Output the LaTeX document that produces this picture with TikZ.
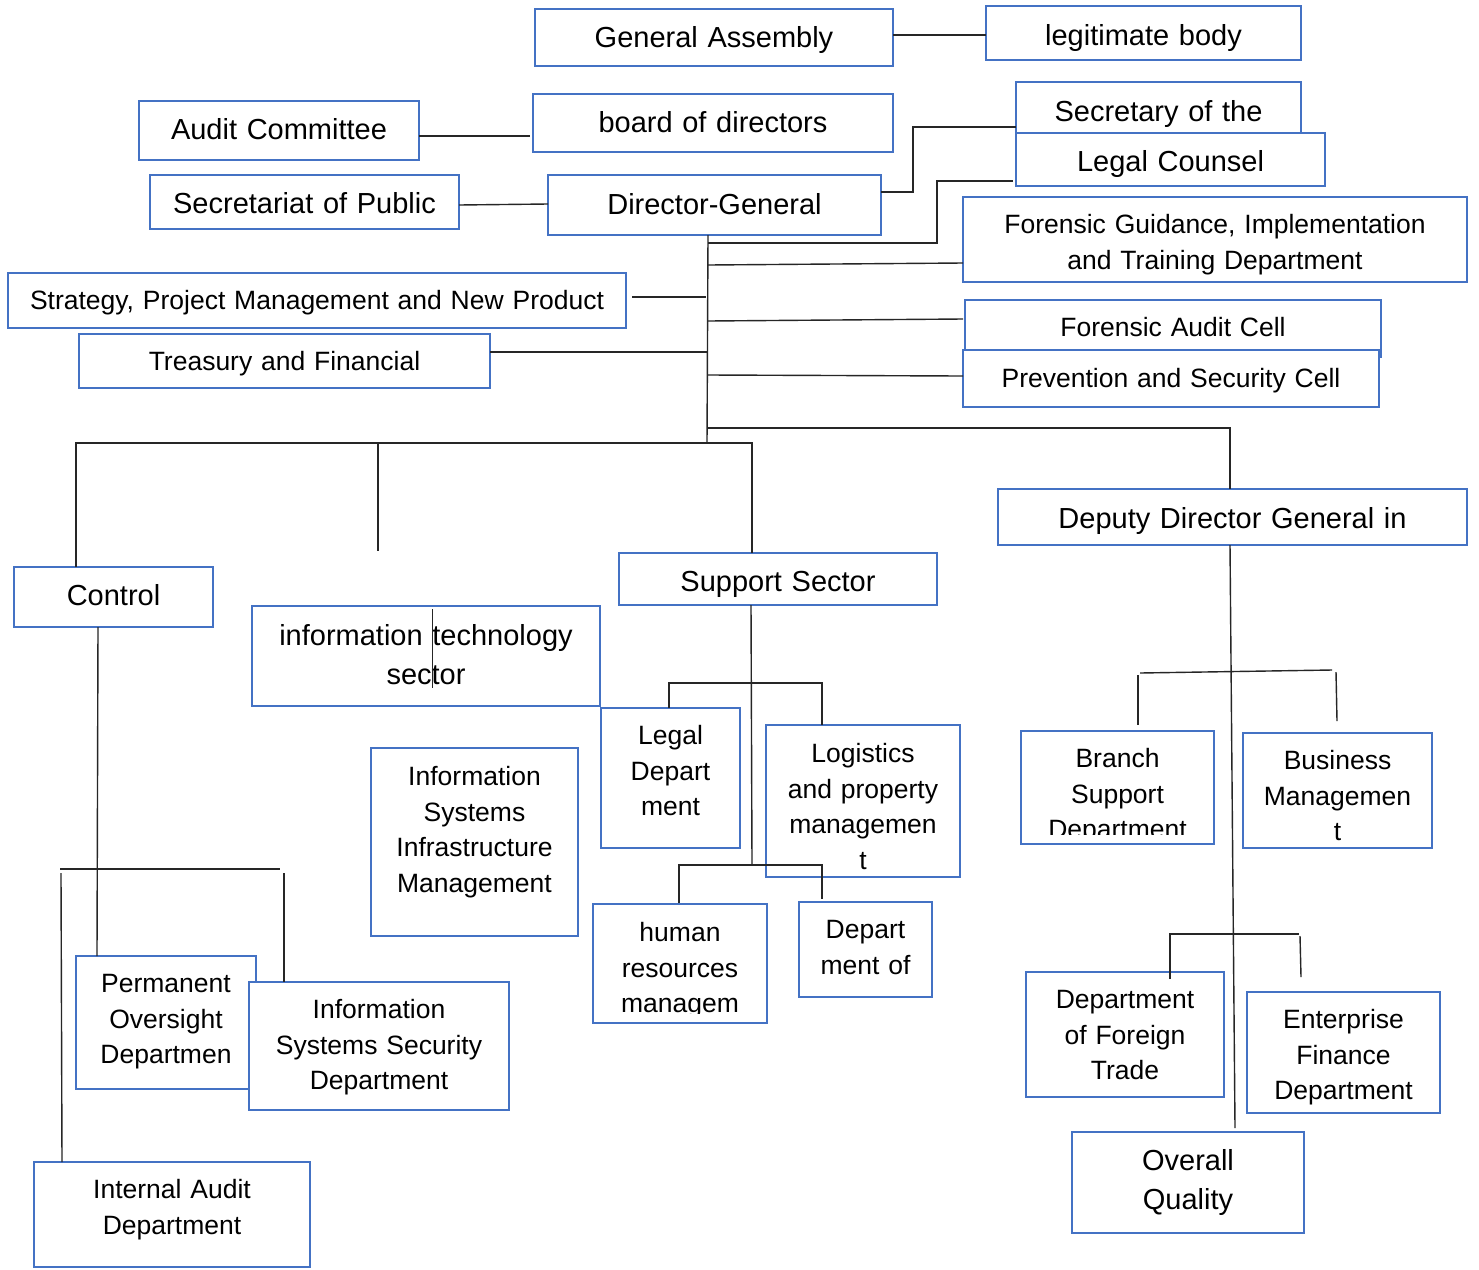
\documentclass[tikz,border=0pt]{standalone}
\usepackage{fontspec}
\setmainfont{Liberation Sans}
\usetikzlibrary{calc}
\definecolor{boxblue}{HTML}{4472C4}
\tikzset{
  box/.style={draw=boxblue, line width=2.9pt, fill=white, inner sep=0pt, outer sep=0pt},
  big/.style={font=\fontsize{29}{39}\selectfont, align=center, inner sep=0pt, text=black},
  sml/.style={font=\fontsize{26.5}{35.5}\selectfont, align=center, inner sep=0pt, text=black},
  conn/.style={draw=black!85, line width=1.4pt},
}
\newcommand\mkbox[8]{%
  \pgfmathsetmacro\bxw{#4-#2}\pgfmathsetmacro\bxh{#5-#3}%
  \pgfmathsetmacro\bxx{(#2+#4)/2}\pgfmathsetmacro\bxy{(#3+#5)/2}%
  \pgfmathsetmacro\bxt{#4-#2-4}%
  \node[box, minimum width=\bxw pt, minimum height=\bxh pt] (#1) at (\bxx,\bxy) {};
  \node[#7, text width=\bxt pt, anchor=base] (#1-t) at (\bxx,#6) {#8};}
\newcommand\mkboxc[9]{%
  \pgfmathsetmacro\bxw{#4-#2}\pgfmathsetmacro\bxh{#5-#3}%
  \pgfmathsetmacro\bxx{(#2+#4)/2}\pgfmathsetmacro\bxy{(#3+#5)/2}%
  \pgfmathsetmacro\bxt{#4-#2-4}%
  \node[box, minimum width=\bxw pt, minimum height=\bxh pt] (#1) at (\bxx,\bxy) {};
  \begin{scope}
    \clip (#2,#3) rectangle (#4,#9);
    \node[#7, text width=\bxt pt, anchor=base] (#1-t) at (\bxx,#6) {#8};
  \end{scope}}
\begin{document}
\begin{tikzpicture}[x=1pt,y=-1pt]
\fill[white] (0,0) rectangle (1479,1269);
\useasboundingbox (0,0) rectangle (1479,1269);

\mkbox{ga}{535}{9}{893}{66}{47.5}{big}{General Assembly}
\mkbox{legit}{986}{6}{1301}{60}{45.5}{big}{legitimate body}
\mkbox{audit}{139}{101}{419}{160}{139.5}{big}{Audit Committee}
\mkbox{board}{533}{94}{893}{152}{132.5}{big}{board of directors}
\mkbox{secr}{1016}{82}{1301}{137}{121.5}{big}{Secretary of the}
\mkbox{legal}{1016}{133}{1325}{186}{171.5}{big}{Legal Counsel}
\mkbox{secpub}{150}{175}{459}{229}{213.5}{big}{Secretariat of Public}
\mkbox{dg}{548}{175}{881}{235}{214.5}{big}{Director-General}
\mkbox{fg}{963}{197}{1467}{282}{233.5}{sml}{Forensic Guidance, Implementation\\and Training Department}
\mkbox{strat}{8}{273}{626}{328}{309.5}{sml}{Strategy, Project Management and New Product}
\mkbox{treas}{79}{334}{490}{388}{370.5}{sml}{Treasury and Financial}
\mkbox{fac}{965}{300}{1381}{357}{336.5}{sml}{Forensic Audit Cell}
\mkbox{prev}{963}{350}{1379}{407}{387.5}{sml}{Prevention and Security Cell}
\mkbox{dep}{998}{489}{1467}{545}{528.5}{big}{Deputy Director General in}
\mkbox{ctrl}{14}{567}{213}{627}{605.5}{big}{Control}
\mkbox{sup}{619}{553}{937}{605}{591.5}{big}{Support Sector}
\mkbox{it}{252}{606}{600}{706}{645.5}{big}{information technology\\sector}
\mkbox{ldep}{601}{708}{740}{848}{744.5}{sml}{Legal\\Depart\\ment}
\mkbox{logi}{766}{725}{960}{877}{762.5}{sml}{Logistics\\and property\\managemen\\t}
\mkbox{isim}{371}{748}{578}{936}{785.5}{sml}{Information\\Systems\\Infrastructure\\Management}
\mkboxc{hr}{593}{904}{767}{1023}{941.5}{sml}{human\\resources\\managem}{1013}
\mkbox{dmo}{799}{902}{932}{997}{938.5}{sml}{Depart\\ment of}
\mkbox{perm}{76}{956}{256}{1089}{992.5}{sml}{Permanent\\Oversight\\Departmen}
\mkbox{iss}{249}{982}{509}{1110}{1018.5}{sml}{Information\\Systems Security\\Department}
\mkbox{ia}{34}{1162}{310}{1267}{1198.5}{sml}{Internal Audit\\Department}
\mkboxc{bsd}{1021}{731}{1214}{844}{767.5}{sml}{Branch\\Support\\Department}{834}
\mkbox{bm}{1243}{733}{1432}{848}{769.5}{sml}{Business\\Managemen\\t}
\mkbox{dft}{1026}{972}{1224}{1097}{1008.5}{sml}{Department\\of Foreign\\Trade}
\mkbox{efd}{1247}{992}{1440}{1113}{1028.5}{sml}{Enterprise\\Finance\\Department}
\mkbox{oq}{1072}{1132}{1304}{1233}{1170.5}{big}{Overall\\Quality}

% connectors
\coordinate (spine) at (708,0);
\draw[conn] ($(ga.east)+(0,-2.5)$) -- ($(legit.west)+(0,2)$);
\draw[conn] ($(audit.east)+(0,5.5)$) -- ($(board.west)+(-3,13)$);
\draw[conn] ($(secpub.east)+(0,3)$) -- ($(dg.west)+(0,-1)$);
\draw[conn] ($(dg.east)+(0,-13)$) -- ++(32,0) |- ($(secr.west)+(0,17.5)$);
\draw[conn] ($(dg.south)+(-6.5,0)$) -- ($(spine)+(-1,443)$);
\draw[conn] ($(spine)+(0,243)$) -- ++(229,0) |- ($(legal.west)+(-3,21.5)$);
\draw[conn] ($(spine)+(0,265)$) -- ($(fg.west)+(0,23.5)$);
\draw[conn] ($(strat.east)+(6,-3.5)$) -- ($(spine)+(-2,297)$);
\draw[conn] ($(treas.east)+(0,-9)$) -- ($(spine)+(0,352)$);
\draw[conn] ($(spine)+(0,321)$) -- ($(fac.west)+(-2,-9.5)$);
\draw[conn] ($(spine)+(0,375)$) -- ($(prev.west)+(0,-2.5)$);
\draw[conn] ($(spine)+(-1,428)$) -| ($(dep.north)+(-2.5,0)$);
\draw[conn] ($(ctrl.north)+(-37.5,0)$) |- ($(sup.north)+(-26,-110)$) -- ($(sup.north)+(-26,0)$);
\coordinate (itA) at (378,443);
\coordinate (itB) at (378,551);
\draw[conn] (itA) -- (itB);
\coordinate (itC) at (432,609);
\coordinate (itD) at (432,688);
\draw[conn, line width=1pt] (itC) -- (itD);
\coordinate (supJ) at (752,865);
\draw[conn] ($(sup.south)+(-27,0)$) -- (supJ);
\draw[conn] ($(ldep.north)+(-1.5,0)$) |- ($(logi.north)+(-41,-42)$) -- ($(logi.north)+(-41,0)$);
\draw[conn] ($(hr.north)+(-1,-1)$) |- ($(dmo.north)+(-43.5,-37)$) -- ($(dmo.north)+(-43.5,-3)$);
\draw[conn] ($(ctrl.south)+(-15.5,0)$) -- ($(perm.north)+(-69,0)$);
\coordinate (cjL) at (60,869);
\coordinate (cjR) at (280,869);
\draw[conn] (cjL) -- (cjR);
\coordinate (cjL2) at (61,873);
\draw[conn] (cjL2) -- ($(ia.north)+(-110,0)$);
\coordinate (cjR2) at (284,873);
\draw[conn] (cjR2) -- ($(iss.north)+(-95,0)$);
\draw[conn] ($(dep.south)+(-2.5,0)$) -- ($(oq.north)+(47,-4)$);
\coordinate (djL) at (1140,673);
\coordinate (djR) at (1332,670);
\draw[conn] (djL) -- (djR);
\coordinate (djL2) at (1138,675);
\draw[conn] (djL2) -- ($(bsd.north)+(20.5,-6)$);
\coordinate (djR2) at (1336,672);
\draw[conn] (djR2) -- ($(bm.north)+(-0.5,-12)$);
\coordinate (fjR) at (1299,934);
\draw[conn] ($(dft.north)+(45,7)$) |- (fjR);
\coordinate (fjR2) at (1300,936);
\draw[conn] (fjR2) -- ($(efd.north)+(-42.5,-15)$);
\end{tikzpicture}
\end{document}
